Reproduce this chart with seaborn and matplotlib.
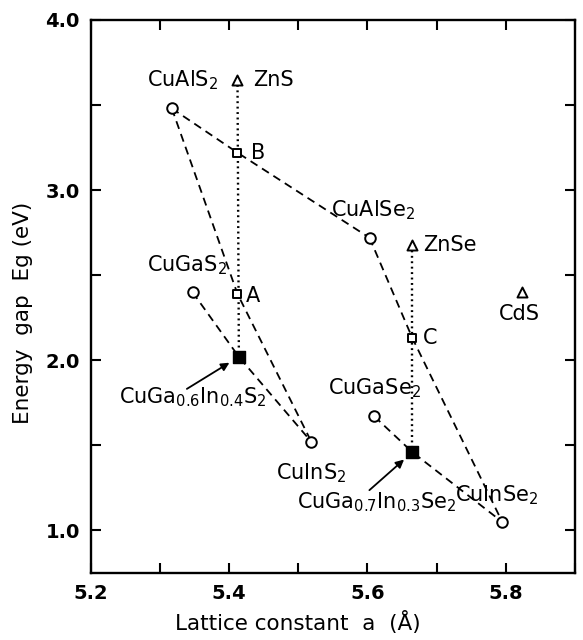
import matplotlib
matplotlib.use("Agg")
import matplotlib.pyplot as plt
import matplotlib.ticker as mticker
import pandas as pd
import seaborn as sns

# Ternary chalcopyrites (open circles)
compounds = ["CuAlS2", "CuGaS2", "CuInS2", "CuAlSe2", "CuGaSe2", "CuInSe2"]
compound_a = [5.317, 5.347, 5.519, 5.603, 5.610, 5.795]
compound_eg = [3.48, 2.40, 1.52, 2.72, 1.67, 1.05]

# Binary II-VI compounds (open triangles)
binaries = ["ZnS", "ZnSe", "CdS"]
binary_a = [5.412, 5.665, 5.824]
binary_eg = [3.65, 2.68, 2.40]

# Intermediate points on the tie lines (open squares)
mixed = ["A", "B", "C"]
mixed_a = [5.412, 5.412, 5.665]
mixed_eg = [2.39, 3.22, 2.13]

# Lattice-matched quaternary alloys (filled squares)
alloys = ["CuGa0.6In0.4S2", "CuGa0.7In0.3Se2"]
alloy_a = [5.414, 5.665]
alloy_eg = [2.02, 1.46]

# Tie lines between end members
dashed_paths = [
    ["CuAlS2", "B", "CuAlSe2"],
    ["CuAlS2", "A", "CuInS2"],
    ["CuGaS2", "CuGa0.6In0.4S2", "CuInS2"],
    ["CuAlSe2", "C", "CuInSe2"],
    ["CuGaSe2", "CuGa0.7In0.3Se2", "CuInSe2"],
]
dotted_paths = [
    ["ZnS", "CuGa0.6In0.4S2"],
    ["ZnSe", "CuGa0.7In0.3Se2"],
]

point_table = pd.DataFrame({
    "name": compounds + binaries + mixed + alloys,
    "a": compound_a + binary_a + mixed_a + alloy_a,
    "eg": compound_eg + binary_eg + mixed_eg + alloy_eg,
    "kind": (["compound"] * len(compounds) + ["binary"] * len(binaries)
             + ["mixed"] * len(mixed) + ["alloy"] * len(alloys)),
}).set_index("name")


def path_frame(names):
    sub = point_table.loc[names].reset_index()
    sub["order"] = range(len(sub))
    return sub


sns.set_style("ticks")
plt.rcParams["font.family"] = ["DejaVu Sans"]
plt.rcParams["mathtext.fontset"] = "dejavusans"
plt.rcParams["text.color"] = "black"
plt.rcParams["axes.labelcolor"] = "black"

fig = plt.figure(figsize=(5.83, 6.40), dpi=100)
ax = fig.add_axes([0.156, 0.1047, 0.830, 0.8641])

for names in dashed_paths:
    sns.lineplot(data=path_frame(names), x="a", y="eg", sort=False, estimator=None,
                 color="black", lw=1.3, dashes=False, ax=ax, zorder=2,
                 linestyle=(0, (4.5, 3)))
for names in dotted_paths:
    sns.lineplot(data=path_frame(names), x="a", y="eg", sort=False, estimator=None,
                 color="black", lw=1.7, dashes=False, ax=ax, zorder=2,
                 linestyle=(0, (0.8, 1.5)))

marker_styles = {
    "compound": dict(marker="o", s=58, facecolor="white", edgecolor="black", linewidth=1.4),
    "binary": dict(marker="^", s=52, facecolor="white", edgecolor="black", linewidth=1.4),
    "mixed": dict(marker="s", s=36, facecolor="white", edgecolor="black", linewidth=1.4),
    "alloy": dict(marker="s", s=85, facecolor="black", edgecolor="black", linewidth=1.0),
}
for kind, style in marker_styles.items():
    sub = point_table[point_table["kind"] == kind].reset_index()
    sns.scatterplot(data=sub, x="a", y="eg", ax=ax, zorder=4, legend=False, **style)

# Text labels, offset (pixels) from the point they belong to
labels = {
    "CuAlS2": ("CuAlS$_2$", (11, 28), "center"),
    "ZnS": ("ZnS", (16, 0), "left"),
    "B": ("B", (14, 0), "left"),
    "A": ("A", (8, -2), "left"),
    "CuAlSe2": ("CuAlSe$_2$", (4, 28), "center"),
    "ZnSe": ("ZnSe", (11, 0), "left"),
    "CdS": ("CdS", (-3, -22), "center"),
    "CuGaS2": ("CuGaS$_2$", (-6, 27), "center"),
    "C": ("C", (10, 0), "left"),
    "CuGaSe2": ("CuGaSe$_2$", (0, 28), "center"),
    "CuInS2": ("CuInS$_2$", (0, -31), "center"),
    "CuInSe2": ("CuInSe$_2$", (-6, 27), "center"),
    "CuGa0.6In0.4S2": ("CuGa$_{0.6}$In$_{0.4}$S$_2$", (-46, -40), "center"),
    "CuGa0.7In0.3Se2": ("CuGa$_{0.7}$In$_{0.3}$Se$_2$", (-36, -50), "center"),
}
for key, (text, offset, ha) in labels.items():
    row = point_table.loc[key]
    ax.annotate(text, xy=(row["a"], row["eg"]), xytext=offset,
                textcoords="offset pixels", ha=ha, va="center",
                fontsize=15, color="black", zorder=5)

# Arrows pointing at the alloys
arrows = {
    "CuGa0.6In0.4S2": (-52, -32),
    "CuGa0.7In0.3Se2": (-43, -38),
}
for key, offset in arrows.items():
    row = point_table.loc[key]
    ax.annotate("", xy=(row["a"], row["eg"]), xytext=offset,
                textcoords="offset pixels",
                arrowprops=dict(arrowstyle="-|>", color="black", lw=1.3,
                                mutation_scale=12, shrinkA=0, shrinkB=8))

ax.set_xlim(5.2, 5.9)
ax.set_ylim(0.75, 4.0)
ax.xaxis.set_major_locator(mticker.MultipleLocator(0.1))
ax.yaxis.set_major_locator(mticker.MultipleLocator(0.5))
ax.xaxis.set_major_formatter(mticker.FuncFormatter(
    lambda v, p: f"{v:.1f}" if abs(round(v * 10) % 2) == 0 else ""))
ax.yaxis.set_major_formatter(mticker.FuncFormatter(
    lambda v, p: f"{v:.1f}" if abs(v - round(v)) < 1e-6 else ""))
ax.tick_params(direction="in", length=7, width=1.5, top=True, right=True,
               labelsize=14, pad=8, colors="black")
for lab in ax.get_xticklabels() + ax.get_yticklabels():
    lab.set_fontweight("bold")
for spine in ax.spines.values():
    spine.set_linewidth(1.7)
    spine.set_color("black")

ax.set_xlabel("Lattice constant  a  (Å)", fontsize=15.5, color="black")
ax.set_ylabel("Energy  gap  Eg (eV)", fontsize=15.5, color="black")
ax.xaxis.set_label_coords(0.428, -0.068)
ax.yaxis.set_label_coords(-0.12, 0.47)

fig.savefig("out.png", dpi=100)
